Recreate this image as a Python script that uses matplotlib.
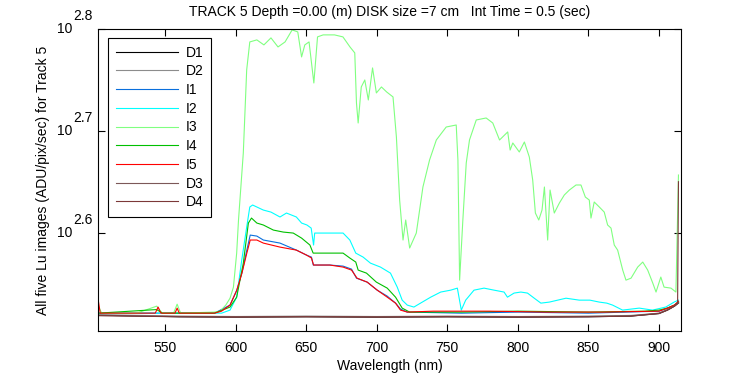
import matplotlib
matplotlib.use("Agg")
import matplotlib.pyplot as plt
import matplotlib.transforms as mtransforms

plt.rcParams["font.family"] = ["Liberation Sans", "DejaVu Sans"]
plt.rcParams["font.size"] = 10

# wavelength (nm) / counts, one pair of lists per image
WL_D1 = [502.6, 560, 600, 650, 700, 750, 800, 850, 880, 900, 906, 911, 913.8]
D1 = [330.8, 329.6, 329.3, 329.6, 329.3, 329.6, 329.3, 329.6, 330.1, 332.0, 334.6, 337.6, 339.9]

WL_D2 = [502.6, 560, 600, 650, 700, 750, 800, 850, 880, 900, 906, 911, 913.8]
D2 = [331.2, 330.1, 329.8, 330.1, 329.8, 330.1, 329.8, 330.1, 330.6, 332.3, 335.0, 337.9, 340.3]

WL_I1 = [502.6, 585, 596, 600.8, 604.4, 607.9, 610.3, 615, 619.6, 631.4, 643, 650.2,
         653.7, 655, 666.7, 676.1, 682.1, 685.6, 693.2, 700.3, 707.4, 713.3, 716.8,
         721.6, 760, 800, 850, 900, 906, 911, 913.8]
I1 = [332.3, 332.3, 338.4, 350.0, 363.7, 383.1, 396.3, 395.4, 391.9, 389.2, 383.1, 378.8,
      377.1, 370.4, 370.4, 369.5, 367.0, 359.6, 356.4, 350.0, 345.3, 339.9, 335.4,
      333.1, 332.3, 333.1, 332.3, 333.8, 336.1, 338.4, 340.7]

WL_I2 = [502.6, 590, 596, 600.7, 604.3, 607.8, 610, 612, 619.6, 625, 631.4, 636, 643,
         646.7, 650.5, 653.5, 655.2, 656, 666.7, 676.1, 680.9, 685.1, 690.3, 695.5,
         702.6, 709.7, 714.5, 718, 721.6, 726.3, 731, 738.2, 745.3, 752.4, 757.1,
         759.9, 763, 768.9, 776, 783.1, 790.2, 792.6, 797.3, 802.1, 806.8, 811.6,
         816.3, 822.3, 834.1, 843.5, 851, 857.7, 863, 867.1, 874.2, 886, 895.4,
         904.8, 910.7, 913.8]
I2 = [332.3, 332.3, 334.6, 344.5, 374.6, 403.5, 422.2, 424.1, 419.3, 417.4, 412.8, 416.5,
      412.8, 407.2, 405.4, 402.6, 387.5, 398.1, 398.1, 398.1, 391.9, 380.5, 377.1,
      372.0, 368.7, 363.7, 352.4, 342.2, 338.4, 336.9, 339.9, 344.5, 348.5, 350.0,
      351.6, 334.6, 342.2, 350.0, 351.6, 350.0, 348.5, 344.5, 347.7, 348.5, 347.7,
      343.7, 339.9, 340.7, 343.7, 342.2, 342.2, 340.7, 339.9, 338.4, 334.6, 336.1,
      334.6, 336.9, 340.7, 342.2]

WL_I3 = [502.6, 505, 530, 544, 548, 556, 558.5, 561, 585, 589, 593, 596, 598.4, 600.7,
         602, 605.4, 607.8, 610, 615, 620, 625, 630, 635, 640, 644, 646.7, 649, 652,
         655.4, 658, 662, 670, 676, 681, 684.4, 685.6, 686.8, 689, 691.5, 694, 697,
         699.7, 703.3, 707, 711.5, 713.9, 716.2, 718.6, 720.5, 723.3, 728, 732.7,
         737.4, 742.2, 749.2, 756.3, 757.5, 758.7, 761, 763.4, 765.7, 770.5, 777.5,
         782.2, 787, 792.8, 794.5, 796.4, 801, 804.6, 808.1, 810.5, 812.4, 814.8,
         817.1, 818.8, 821.1, 822.8, 825.8, 829.4, 832.9, 836.5, 841.2, 844.7, 847.8,
         850.6, 851.8, 854.1, 857.7, 861.2, 863.6, 866, 868.3, 870.7, 874.3, 876.6,
         880.2, 884.9, 888.5, 892, 895.6, 897.9, 901.3, 903.6, 908.5, 912, 913.8]
I3 = [338.0, 332.3, 332.3, 337.6, 332.3, 332.3, 339.1, 332.3, 333.1, 333.8, 338.4, 343.7,
      352.4, 380.5, 410.0, 476.9, 575.2, 612.7, 615.5, 608.6, 618.3, 605.8, 612.7,
      629.5, 626.7, 592.3, 608.6, 612.7, 558.5, 619.7, 622.5, 622.5, 619.7, 605.8,
      597.7, 533.9, 510.3, 553.5, 562.3, 537.5, 577.8, 546.1, 553.5, 547.3, 541.2,
      494.4, 428.9, 391.9, 410.0, 384.9, 398.1, 441.7, 469.4, 491.1, 505.7, 508.0,
      469.4, 358.0, 410.0, 466.3, 491.1, 513.8, 516.1, 510.3, 491.1, 500.1, 480.1,
      487.8, 478.0, 488.9, 472.6, 448.7, 416.5, 410.0, 419.3, 441.7, 391.9, 438.7,
      416.5, 426.0, 433.8, 438.7, 443.7, 443.7, 431.8, 428.9, 411.8, 427.0, 422.2,
      417.4, 405.4, 402.6, 387.5, 383.1, 366.2, 358.0, 359.6, 368.7, 372.9, 366.2,
      355.6, 348.5, 360.5, 352.4, 351.6, 348.5, 453.8]

WL_I4 = [502.6, 544, 548, 585, 596, 600.7, 605.4, 609, 611.2, 615, 619.6, 626.7, 633.7,
         640.8, 646.7, 652.6, 654.9, 666.7, 676.1, 680.9, 685.1, 686.8, 692.7, 699.7,
         707.4, 713.3, 718, 723.3, 760, 800, 850, 890, 900, 906, 911, 913.8]
I4 = [332.3, 335.0, 332.3, 332.3, 336.9, 344.5, 372.0, 407.2, 411.8, 407.2, 405.4, 400.8,
      399.0, 398.1, 393.6, 387.5, 380.5, 380.5, 380.5, 376.3, 372.9, 366.2, 363.7,
      356.4, 351.6, 344.5, 336.1, 333.1, 333.1, 333.8, 333.1, 333.8, 334.6, 336.1,
      338.4, 340.7]

WL_I5 = [502.6, 504, 543, 545, 547, 557, 558.5, 560, 585, 590, 596, 600.8, 604.4, 607.9,
         610.3, 615, 619.6, 631.4, 643, 650.2, 653.7, 655.2, 666.7, 676.1, 682.1, 686,
         693.2, 700.3, 707.4, 713.3, 716.8, 721.6, 740, 780, 820, 860, 900, 906, 911, 913.8]
I5 = [342.2, 332.3, 332.3, 336.9, 332.3, 332.3, 336.1, 332.3, 332.3, 333.8, 338.4, 350.0,
      363.7, 380.5, 391.9, 391.9, 389.2, 385.7, 383.1, 378.8, 376.3, 370.4, 370.4,
      368.7, 366.2, 359.6, 356.4, 350.0, 344.5, 339.9, 334.6, 333.1, 333.8, 333.8,
      333.1, 333.1, 333.8, 336.1, 338.4, 341.4]

WL_D3 = [502.6, 560, 600, 650, 700, 750, 800, 850, 880, 900, 906, 911, 913.8]
D3 = [330.6, 329.8, 329.6, 329.8, 329.6, 329.8, 329.6, 329.8, 330.3, 332.2, 334.8, 337.8, 340.1]

WL_D4 = [502.6, 560, 600, 650, 700, 750, 800, 850, 880, 900, 906, 911, 913.2, 913.8]
D4 = [330.4, 329.6, 329.4, 329.6, 329.4, 329.6, 329.4, 329.6, 330.1, 332.0, 334.6, 337.6, 340.0, 447.0]

SERIES = [("D1", WL_D1, D1, "#000000"),
          ("D2", WL_D2, D2, "#8c8c8c"),
          ("I1", WL_I1, I1, "#0a6fdc"),
          ("I2", WL_I2, I2, "#00ffff"),
          ("I3", WL_I3, I3, "#80ff80"),
          ("I4", WL_I4, I4, "#00c000"),
          ("I5", WL_I5, I5, "#ff0000"),
          ("D3", WL_D3, D3, "#7c5858"),
          ("D4", WL_D4, D4, "#7c3838")]

YTICK_EXP = ["2.6", "2.7", "2.8"]
YTICKS = [10 ** 2.6, 10 ** 2.7, 10 ** 2.8]
XTICKS = [550, 600, 650, 700, 750, 800, 850, 900]

fig = plt.figure(figsize=(7.5, 3.75), dpi=100)
ax = fig.add_axes([0.131, 0.117, 0.777, 0.806])

for name, wl, val, col in SERIES:
    ax.plot(wl, val, color=col, linewidth=0.8, label=name)

ax.set_yscale("log")
ax.set_xlim(502.6, 915.6)
ax.set_ylim(319.1, 631.0)
ax.set_yticks(YTICKS)
ax.set_yticklabels([""] * len(YTICKS))
ax.yaxis.set_minor_locator(matplotlib.ticker.NullLocator())
ax.set_xticks(XTICKS)
ax.tick_params(direction="in", top=True, right=True, length=5, width=0.8,
               labelsize=10)
ax.tick_params(axis="x", pad=7)
for s in ax.spines.values():
    s.set_linewidth(0.8)

# MATLAB style "10" with raised exponent at full size
trans = mtransforms.blended_transform_factory(ax.transAxes, ax.transData)
for t, e in zip(YTICKS, YTICK_EXP):
    ax.text(-0.0436, t, "10", transform=trans, ha="right", va="center",
            fontsize=10, clip_on=False)
    ax.annotate(e, xy=(-0.0425, t), xycoords=trans, xytext=(0, 9.5),
                textcoords="offset points", ha="left", va="center",
                fontsize=10, annotation_clip=False)

ax.set_xlabel("Wavelength (nm)", fontsize=10, labelpad=3)
ax.set_ylabel("All five Lu images (ADU/pix/sec) for Track 5", fontsize=10)
ax.yaxis.set_label_coords(-0.083, 0.5)
ax.set_title("TRACK 5 Depth =0.00 (m) DISK size =7 cm   Int Time = 0.5 (sec)",
             fontsize=10, pad=9)

leg = ax.legend(loc="upper left", bbox_to_anchor=(0.0165, 0.970), fontsize=10,
                handlelength=4.5, labelspacing=0.34, borderpad=0.55,
                handletextpad=0.55, borderaxespad=0, fancybox=False, framealpha=1)
leg.get_frame().set_edgecolor("black")
leg.get_frame().set_linewidth(0.8)

fig.savefig("out.png", dpi=100)
